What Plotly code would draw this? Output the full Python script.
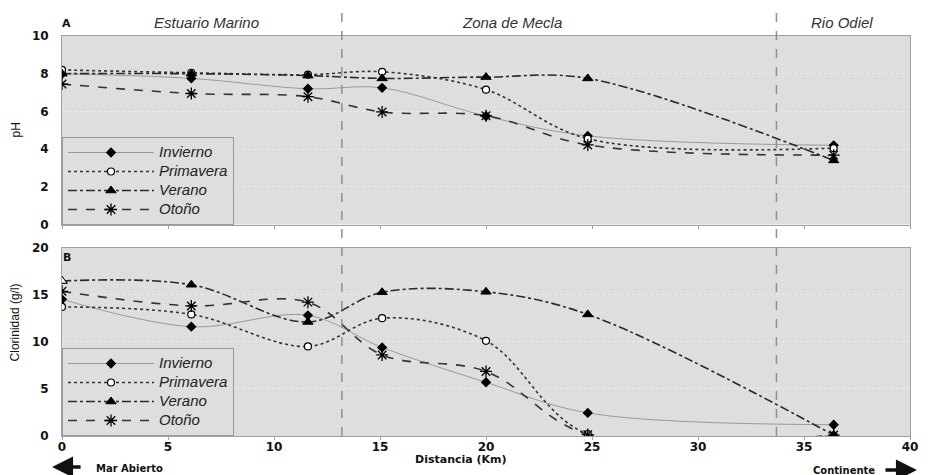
import plotly.graph_objects as go
from plotly.subplots import make_subplots

distancia = [0, 6.1, 11.6, 15.1, 20.0, 24.8, 36.4]

ph_invierno = [8.0, 7.75, 7.2, 7.25, 5.75, 4.7, 4.2]
ph_primavera = [8.2, 8.05, 7.95, 8.1, 7.15, 4.55, 4.05]
ph_verano = [8.0, 8.0, 7.9, 7.75, 7.82, 7.75, 3.4]
ph_otono = [7.45, 6.95, 6.78, 5.97, 5.77, 4.22, 3.68]

cl_invierno = [14.5, 11.6, 12.8, 9.4, 5.7, 2.45, 1.2]
cl_primavera = [13.7, 12.9, 9.5, 12.5, 10.1, 0.2, 0.05]
cl_verano = [16.45, 16.05, 12.1, 15.25, 15.3, 12.9, 0.1]
cl_otono = [15.35, 13.8, 14.2, 8.6, 6.85, 0.15, 0.1]

series_names = ["Invierno", "Primavera", "Verano", "Otoño"]
zonas = ["Estuario Marino", "Zona de Mecla", "Rio Odiel"]
limites = [13.2, 33.7]

PLOT_BG = "#dedede"

styles = {
    "Invierno": dict(line=dict(color="#9a9a9a", width=1, dash="solid", shape="spline"),
                     marker=dict(symbol="diamond", size=8, color="black", line=dict(color="black", width=0))),
    "Primavera": dict(line=dict(color="#333333", width=1.6, dash="dot", shape="spline"),
                      marker=dict(symbol="circle", size=7, color="white", line=dict(color="black", width=1.2))),
    "Verano": dict(line=dict(color="#2a2a2a", width=1.6, dash="dashdot", shape="spline"),
                   marker=dict(symbol="triangle-up", size=9, color="black", line=dict(color="black", width=1))),
    "Otoño": dict(line=dict(color="#333333", width=1.6, dash="dash", shape="spline"),
                  marker=dict(symbol="asterisk-open", size=10, color="black", line=dict(color="black", width=1.3))),
}


def legend_label(name):
    return '<span style="font-size:15px">' + name + '</span>'


fig = make_subplots(rows=2, cols=1, vertical_spacing=0.0575)

top = [ph_invierno, ph_primavera, ph_verano, ph_otono]
bot = [cl_invierno, cl_primavera, cl_verano, cl_otono]

for name, vals in zip(series_names, top):
    st = styles[name]
    fig.add_trace(go.Scatter(x=distancia, y=vals, name=legend_label(name), mode="lines+markers",
                             line=st["line"], marker=st["marker"], legend="legend"), row=1, col=1)

for name, vals in zip(series_names, bot):
    st = styles[name]
    fig.add_trace(go.Scatter(x=distancia, y=vals, name=legend_label(name), mode="lines+markers",
                             line=st["line"], marker=st["marker"], legend="legend2"), row=2, col=1)

# first summer chlorinity sample drawn as an open triangle
fig.add_trace(go.Scatter(x=distancia[:1], y=cl_verano[:1], mode="markers", showlegend=False,
                         marker=dict(symbol="triangle-up", size=9, color="white",
                                     line=dict(color="black", width=1))), row=2, col=1)

axis_common = dict(showline=True, linecolor="#a0a0a0", linewidth=1, mirror=True,
                   zeroline=False)
tickfont = dict(family="DejaVu Sans", size=12, color="#111111", weight="bold")

fig.update_xaxes(range=[0, 40], dtick=5, showgrid=False, ticks="outside", ticklen=3,
                 tickcolor="#a0a0a0", tickfont=tickfont, ticklabelstandoff=-3, **axis_common)
fig.update_xaxes(showticklabels=False, row=1, col=1)
fig.update_yaxes(showgrid=True, gridcolor="#ececec", griddash="dot", gridwidth=1,
                 ticks="", tickfont=tickfont, ticklabelstandoff=10, **axis_common)
fig.update_yaxes(range=[0, 10], dtick=2, row=1, col=1)
fig.update_yaxes(range=[0, 20], dtick=5, row=2, col=1)

legend_common = dict(bgcolor=PLOT_BG, bordercolor="#9a9a9a", borderwidth=1,
                     font=dict(family="Liberation Sans, Arial", size=11, color="#222222", style="italic"),
                     itemwidth=86, xanchor="left", yanchor="bottom", tracegroupgap=0)
fig.update_layout(
    legend=dict(x=0, y=0.5275, **legend_common),
    legend2=dict(x=0, y=0, **legend_common),
)

for xv in limites:
    fig.add_shape(type="line", xref="x", yref="paper", x0=xv, x1=xv, y0=0, y1=1.065,
                  line=dict(color="#8f8f8f", width=1.5, dash="dash"))


def py(pix):
    return (436 - pix) / 400.0


def px(pix):
    return (pix - 62) / 856.0


def A(**kw):
    fig.add_annotation(showarrow=False, xref="paper", yref="paper", **kw)


for zx, z in zip([208, 516, 849], zonas):
    A(x=px(zx), y=py(22), text=z, xanchor="center", yanchor="middle",
      font=dict(family="Liberation Sans, Arial", size=15, color="#333333", style="italic"))

A(x=px(67), y=py(23), text="<b>A</b>", xanchor="center", yanchor="middle",
  font=dict(family="DejaVu Sans", size=11, color="#111111"))
A(x=px(67), y=py(258), text="<b>B</b>", xanchor="center", yanchor="middle",
  font=dict(family="DejaVu Sans", size=11, color="#111111"))
A(x=px(16), y=py(130), text="pH", textangle=-90, xanchor="center", yanchor="middle",
  font=dict(family="Liberation Sans Narrow, Liberation Sans", size=12, color="#111111"))
A(x=px(15), y=py(322), text="Clorinidad (g/l)", textangle=-90, xanchor="center", yanchor="middle",
  font=dict(family="Liberation Sans Narrow, Liberation Sans", size=12, color="#111111"))
A(x=px(465), y=py(459), text="<b>Distancia (Km)</b>", xanchor="center", yanchor="middle",
  font=dict(family="DejaVu Sans", size=11, color="#111111"))
A(x=px(130), y=py(468), text="<b>Mar Abierto</b>", xanchor="center", yanchor="middle",
  font=dict(family="DejaVu Sans", size=10, color="#111111"))
A(x=px(851), y=py(470), text="<b>Continente</b>", xanchor="center", yanchor="middle",
  font=dict(family="DejaVu Sans", size=10, color="#111111"))

fig.add_annotation(xref="paper", yref="paper", x=px(52), y=py(467), ax=30, ay=0,
                   axref="pixel", ayref="pixel", showarrow=True, arrowhead=2, arrowsize=1.2,
                   arrowwidth=3.5, arrowcolor="#111111", text="")
fig.add_annotation(xref="paper", yref="paper", x=px(925), y=py(470), ax=-33, ay=0,
                   axref="pixel", ayref="pixel", showarrow=True, arrowhead=2, arrowsize=1.2,
                   arrowwidth=3.5, arrowcolor="#111111", text="")

# the page adds an 8 px body margin, so the figure is drawn 8 px smaller
fig.update_layout(
    width=920, height=467,
    margin=dict(l=54, r=10, t=28, b=39),
    paper_bgcolor="white",
    plot_bgcolor=PLOT_BG,
    showlegend=True,
)

fig.write_html("out.html")
